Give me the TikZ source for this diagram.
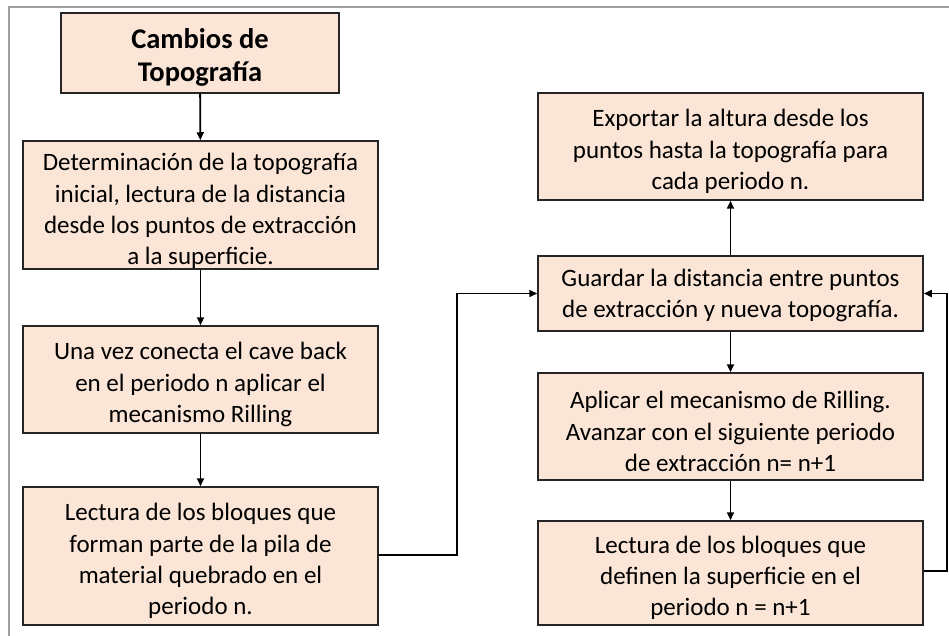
\documentclass[tikz,border=0pt]{standalone}
\usepackage{fontspec}
\setmainfont{Carlito}
\usetikzlibrary{arrows.meta}
\definecolor{peach}{HTML}{FBE5D6}
\definecolor{frame}{HTML}{A0A0A0}
\tikzset{
  box/.style={draw=black!85, line width=1.5pt, fill=peach, inner sep=0pt},
  txt/.style={align=center, inner sep=0pt, yshift=-5pt, font=\fontsize{25}{31.3}\selectfont},
  conn/.style={draw=black, line width=1.8pt, -{Triangle[length=8pt,width=7pt]}},
}
\begin{document}
\begin{tikzpicture}[x=1pt,y=-1pt]
\useasboundingbox (0,0) rectangle (949,636);
\fill[white] (0,0) rectangle (949,636);
\draw[frame, line width=1.8pt] (9,640) -- (9,7) -- (949,7);
% left column boxes
\node[box, minimum width=278pt, minimum height=80pt] (b1) at (200,53) {};
\node[box, minimum width=355pt, minimum height=128pt] (b2) at (200.5,205) {};
\node[box, minimum width=355pt, minimum height=107pt] (b3) at (200.5,379.5) {};
\node[box, minimum width=355pt, minimum height=138pt] (b4) at (200.5,556) {};
% right column boxes
\node[box, minimum width=385pt, minimum height=107pt] (r1) at (730.5,146.5) {};
\node[box, minimum width=385pt, minimum height=75pt] (r2) at (730.5,293.5) {};
\node[box, minimum width=385pt, minimum height=107pt] (r3) at (730.5,426.5) {};
\node[box, minimum width=385pt, minimum height=104pt] (r4) at (730.5,573) {};
% texts
\node[txt, yshift=1pt, font=\fontsize{28.5}{33}\selectfont\bfseries] (t1) at (b1) {Cambios de\\Topografía};
\node[txt, yshift=-1pt] (t2) at (b2) {Determinación de la topografía\\inicial, lectura de la distancia\\desde los puntos de extracción\\a la superficie.};
\node[txt] (t3) at (b3) {Una vez conecta el cave back\\en el periodo n aplicar el\\mecanismo Rilling};
\node[txt] (t4) at (b4) {Lectura de los bloques que\\forman parte de la pila de\\material quebrado en el\\periodo n.};
\node[txt] (s1) at (r1) {Exportar la altura desde los\\puntos hasta la topografía para\\cada periodo n.};
\node[txt, yshift=3pt] (s2) at (r2) {Guardar la distancia entre puntos\\de extracción y nueva topografía.};
\node[txt] (s3) at (r3) {Aplicar el mecanismo de Rilling.\\Avanzar con el siguiente periodo\\de extracción n= n+1};
\node[txt] (s4) at (r4) {Lectura de los bloques que\\definen la superficie en el\\periodo n = n+1};
\coordinate (c1) at (457,555);
\coordinate (c2) at (947,571);
% connectors
\draw[conn] (b1) -- (b2);
\draw[conn] (b2) -- (b3);
\draw[conn] (b3) -- (b4);
\draw[conn] (r2) -- (r1);
\draw[conn] (r2) -- (r3);
\draw[conn] (r3) -- (r4);
\draw[conn] (b4.east |- c1) -- (c1) |- (r2.west);
\draw[conn] (r4.east |- c2) -- (c2) |- (r2.east);
\end{tikzpicture}
\end{document}
